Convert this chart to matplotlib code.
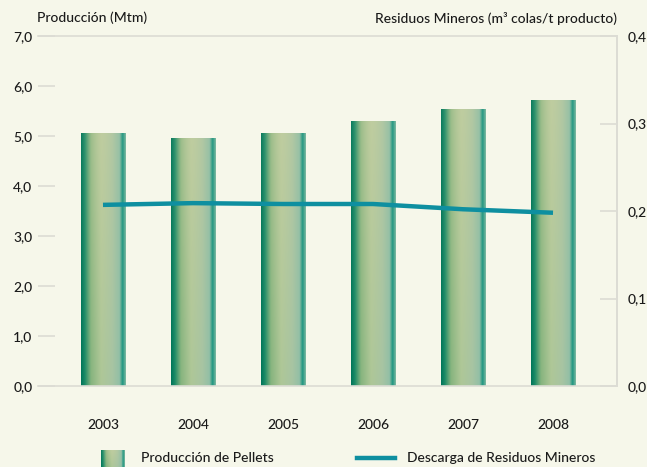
import numpy as np
import matplotlib
matplotlib.use("Agg")
import matplotlib.pyplot as plt
from matplotlib.lines import Line2D

plt.rcParams['font.family'] = ['Lato', 'DejaVu Sans']
plt.rcParams['font.weight'] = 500

years = ['2003', '2004', '2005', '2006', '2007', '2008']
produccion = [5.06, 4.96, 5.06, 5.30, 5.54, 5.72]
residuos = [0.207, 0.209, 0.208, 0.208, 0.202, 0.198]
left_ticks = [0, 1, 2, 3, 4, 5, 6, 7]
right_ticks = [0.0, 0.1, 0.2, 0.3, 0.4]

bg = '#f6f7ea'
grey = '#dcdcd4'
txt = '#1a1a1a'
line_col = '#0e8fa0'

# horizontal colour profile of the cylinder bars
stops = [0.0, 0.08, 0.22, 0.45, 0.7, 0.86, 0.93, 1.0]
cols = ['#00765a', '#1a8a66', '#86b47e', '#aec797', '#a7c4a2', '#92bfa6', '#1d9580', '#7ab8a0']
top_tint = np.array([0.80, 0.82, 0.65])


def bar_image(nx=80, ny=80):
    rgb = np.array([matplotlib.colors.to_rgb(c) for c in cols])
    xs = np.linspace(0, 1, nx)
    row = np.stack([np.interp(xs, stops, rgb[:, k]) for k in range(3)], axis=1)
    ys = np.linspace(0, 1, ny)[:, None, None]
    # the middle of the bar gets paler toward the top
    mid = np.exp(-((xs - 0.45) / 0.3) ** 2)[None, :, None]
    img = row[None, :, :] * (1 - 0.55 * ys * mid) + top_tint * 0.55 * ys * mid
    return np.clip(img, 0, 1)


img = bar_image()

fig = plt.figure(figsize=(6.47, 4.67), dpi=100, facecolor=bg)
ax = fig.add_axes([38 / 647, 1 - 386 / 467, 579 / 647, 350 / 467])
ax.set_facecolor(bg)

x = np.arange(len(years))
bars = ax.bar(x, produccion, width=0.49, color='none', zorder=2)
for b in bars:
    bx, bw, bh = b.get_x(), b.get_width(), b.get_height()
    ax.imshow(img, extent=[bx, bx + bw, 0, bh], origin='lower', aspect='auto', zorder=2)

ax.set_xlim(-0.722, 5.711)
ax.set_ylim(0, 7)
ax.set_xticks(x)
ax.set_xticklabels(years)
ax.set_yticks(left_ticks)
ax.set_yticklabels([f"{v:.1f}".replace('.', ',') for v in left_ticks])
ax.tick_params(axis='x', length=0, pad=24, labelsize=10, colors=txt)
ax.tick_params(axis='y', direction='in', length=12, width=1.2, color=grey,
               pad=4, labelsize=10, labelcolor=txt)
ax.spines['left'].set_visible(False)
for s in ['top', 'bottom', 'right']:
    ax.spines[s].set_color(grey)
    ax.spines[s].set_linewidth(1.2)

ax2 = ax.twinx()
ax2.plot(x, residuos, color=line_col, lw=3.2, solid_capstyle='butt', zorder=3)
ax2.set_ylim(0, 0.4)
ax2.set_yticks(right_ticks)
ax2.set_yticklabels([f"{v:.1f}".replace('.', ',') for v in right_ticks])
ax2.tick_params(axis='y', direction='in', length=12, width=1.2, color=grey,
                pad=8, labelsize=10, labelcolor=txt)
for s in ['left', 'top', 'bottom']:
    ax2.spines[s].set_visible(False)
ax2.spines['right'].set_color(grey)
ax2.spines['right'].set_linewidth(1.2)

fig.text(37 / 647, 1 - 18 / 467, 'Producción (Mtm)', ha='left', va='center',
         fontsize=10, color=txt)
fig.text(617 / 647, 1 - 18 / 467, 'Residuos Mineros (m³ colas/t producto)',
         ha='right', va='center', fontsize=10, color=txt)

# legend
sw = fig.add_axes([101 / 647, 0, 24 / 647, 17 / 467])
sw.imshow(img, origin='lower', aspect='auto')
sw.axis('off')
fig.text(141 / 647, 9 / 467, 'Producción de Pellets', ha='left', va='center',
         fontsize=10, color=txt)
fig.add_artist(Line2D([357 / 647, 395 / 647], [9 / 467, 9 / 467], color=line_col,
                      lw=3.2, transform=fig.transFigure))
fig.text(407 / 647, 9 / 467, 'Descarga de Residuos Mineros', ha='left', va='center',
         fontsize=10, color=txt)

fig.savefig('out.png', dpi=100, facecolor=bg)
